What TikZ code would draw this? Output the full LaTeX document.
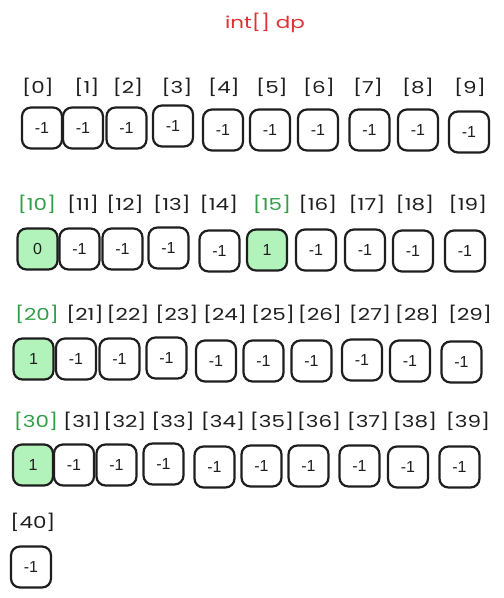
\documentclass[tikz,border=0pt]{standalone}
\usepackage{fontspec}
\setmainfont{Poppins}
\newfontfamily\idxfont[FakeStretch=1.3]{Poppins}
\newfontfamily\valfont{Liberation Sans}
\definecolor{strk}{HTML}{1E1E1E}
\definecolor{gfill}{HTML}{B2F2BB}
\definecolor{glab}{HTML}{2F9E44}
\definecolor{rtitle}{HTML}{E03131}
\begin{document}
\begin{tikzpicture}[x=1pt,y=-1pt,
  cell/.style={draw=strk, line width=2.2pt, rounded corners=9pt, minimum width=40pt, minimum height=41pt, inner sep=0pt, font=\valfont\fontsize{16}{16}\selectfont, text=strk},
  hit/.style={cell, fill=gfill},
  idx/.style={font=\idxfont\fontsize{16.5}{16.5}\selectfont, text=strk, inner sep=0pt},
  idxg/.style={idx, text=glab},
  titlestyle/.style={font=\idxfont\fontsize{16.5}{16.5}\selectfont, text=rtitle, inner sep=0pt}]
\useasboundingbox (0,0) rectangle (504,598);
\node[titlestyle] (title) at (265,23) {int[] dp};
% row 1
\node[idx] (l0) at (38,87) {[0]};
\node[idx] (l1) at (87,87) {[1]};
\node[idx] (l2) at (128,87) {[2]};
\node[idx] (l3) at (177,87) {[3]};
\node[idx] (l4) at (224,87) {[4]};
\node[idx] (l5) at (272,87) {[5]};
\node[idx] (l6) at (319,87) {[6]};
\node[idx] (l7) at (368,87) {[7]};
\node[idx] (l8) at (418,87) {[8]};
\node[idx] (l9) at (470,87) {[9]};
\node[cell] (c0) at (42,128) {-1};
\node[cell] (c1) at (83,128) {-1};
\node[cell] (c2) at (126.5,128) {-1};
\node[cell] (c3) at (173,126) {-1};
\node[cell] (c4) at (223,130) {-1};
\node[cell] (c5) at (270,130) {-1};
\node[cell] (c6) at (318,130) {-1};
\node[cell] (c7) at (369.5,130) {-1};
\node[cell] (c8) at (418,130) {-1};
\node[cell] (c9) at (469,132) {-1};
% row 2
\node[idxg] (l10) at (37,204) {[10]};
\node[idx] (l11) at (83,204) {[11]};
\node[idx] (l12) at (125,204) {[12]};
\node[idx] (l13) at (172,204) {[13]};
\node[idx] (l14) at (219,204) {[14]};
\node[idxg] (l15) at (272,204) {[15]};
\node[idx] (l16) at (318,204) {[16]};
\node[idx] (l17) at (367,204) {[17]};
\node[idx] (l18) at (415,204) {[18]};
\node[idx] (l19) at (468,204) {[19]};
\node[hit] (c10) at (37.5,249) {0};
\node[cell] (c11) at (79.5,249) {-1};
\node[cell] (c12) at (122.5,249) {-1};
\node[cell] (c13) at (168.5,248) {-1};
\node[cell] (c14) at (219.5,251) {-1};
\node[hit] (c15) at (267,250) {1};
\node[cell] (c16) at (316,250) {-1};
\node[cell] (c17) at (365,250) {-1};
\node[cell] (c18) at (413,251) {-1};
\node[cell] (c19) at (465,251) {-1};
% row 3
\node[idxg] (l20) at (37,314) {[20]};
\node[idx] (l21) at (85,314) {[21]};
\node[idx] (l22) at (128,314) {[22]};
\node[idx] (l23) at (177,314) {[23]};
\node[idx] (l24) at (225,314) {[24]};
\node[idx] (l25) at (273,314) {[25]};
\node[idx] (l26) at (320,314) {[26]};
\node[idx] (l27) at (370,314) {[27]};
\node[idx] (l28) at (417,314) {[28]};
\node[idx] (l29) at (470,314) {[29]};
\node[hit] (c20) at (33.5,359) {1};
\node[cell] (c21) at (76,359) {-1};
\node[cell] (c22) at (119.5,359) {-1};
\node[cell] (c23) at (166.5,358) {-1};
\node[cell] (c24) at (216,361) {-1};
\node[cell] (c25) at (263.5,361) {-1};
\node[cell] (c26) at (311.5,361) {-1};
\node[cell] (c27) at (362,360) {-1};
\node[cell] (c28) at (410,361) {-1};
\node[cell] (c29) at (461.5,362) {-1};
% row 4
\node[idxg] (l30) at (36,421) {[30]};
\node[idx] (l31) at (82,421) {[31]};
\node[idx] (l32) at (125,421) {[32]};
\node[idx] (l33) at (173,421) {[33]};
\node[idx] (l34) at (223,421) {[34]};
\node[idx] (l35) at (272,421) {[35]};
\node[idx] (l36) at (319,421) {[36]};
\node[idx] (l37) at (368,421) {[37]};
\node[idx] (l38) at (415,421) {[38]};
\node[idx] (l39) at (468,421) {[39]};
\node[hit] (c30) at (33,465) {1};
\node[cell] (c31) at (74,465) {-1};
\node[cell] (c32) at (116.5,465) {-1};
\node[cell] (c33) at (163.5,464) {-1};
\node[cell] (c34) at (214.5,467) {-1};
\node[cell] (c35) at (261.5,466) {-1};
\node[cell] (c36) at (308.5,466) {-1};
\node[cell] (c37) at (359.5,466) {-1};
\node[cell] (c38) at (408,467) {-1};
\node[cell] (c39) at (459.5,467) {-1};
% row 5
\node[idx] (l40) at (33,522) {[40]};
\node[cell] (c40) at (31,567) {-1};
\end{tikzpicture}
\end{document}
